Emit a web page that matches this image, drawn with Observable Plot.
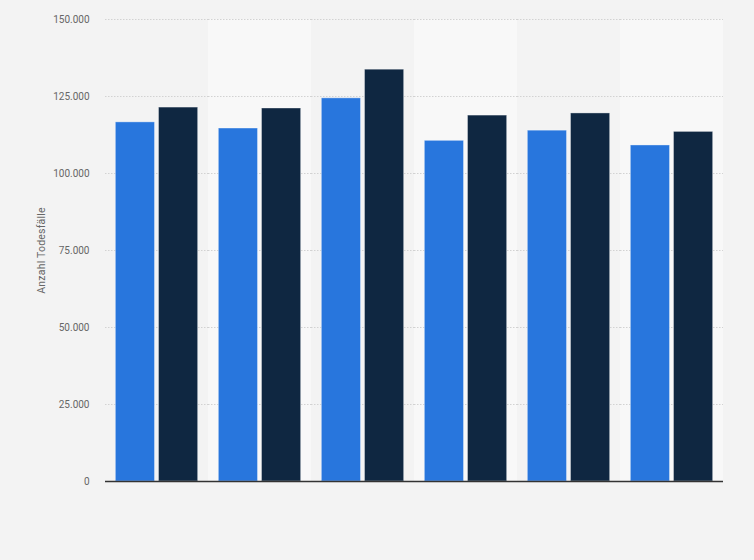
<!DOCTYPE html>
<html>
<head>
<meta charset="utf-8">
<script src="https://cdn.jsdelivr.net/npm/d3@7"></script>
<script src="https://cdn.jsdelivr.net/npm/@observablehq/plot@0.6"></script>
<style>
  html, body { margin: 0; padding: 0; background: #f3f3f3; }
  #chart g[aria-label="y-axis label"] text { font-size: 10.5px; letter-spacing: 0.2px; }
</style>
</head>
<body>
<div id="chart"></div>
<script>
const groups = ["1", "2", "3", "4", "5", "6"];
const series = ["Reihe 1", "Reihe 2"];
const seriesA = [116600, 114600, 124400, 110600, 113900, 109100];
const seriesB = [121400, 121100, 133700, 118800, 119500, 113500];
const yTicks = [0, 25000, 50000, 75000, 100000, 125000, 150000];
const shadedGroups = ["2", "4", "6"];

const data = groups.flatMap((g, i) => [
  {group: g, series: series[0], value: seriesA[i]},
  {group: g, series: series[1], value: seriesB[i]}
]);

const fmt = d3.formatLocale({decimal: ",", thousands: ".", grouping: [3], currency: ["", " €"]}).format(",d");

const chart = Plot.plot({
  width: 754,
  height: 560,
  marginLeft: 104,
  marginRight: 30,
  marginTop: 19,
  marginBottom: 79,
  style: {background: "#f3f3f3", fontFamily: "Roboto, sans-serif", fontSize: "10px", color: "#666"},
  fx: {domain: groups, padding: 0, axis: null},
  x: {domain: series, paddingInner: 0.093, paddingOuter: 0.24, round: false, axis: null},
  y: {
    domain: [0, 150000],
    ticks: yTicks,
    tickFormat: fmt,
    tickSize: 0,
    tickPadding: 16,
    label: "Anzahl Todesfälle",
    labelAnchor: "center",
    labelArrow: "none",
    labelOffset: 68
  },
  color: {domain: series, range: ["#2876dd", "#0f2741"]},
  marks: [
    Plot.barY(shadedGroups, {fx: d => d, y1: 0, y2: 150000, fill: "#f8f8f8"}),
    Plot.gridY(yTicks, {stroke: "#d2d2d2", strokeOpacity: 1, strokeDasharray: "1.5,1.5"}),
    Plot.barY(data, {fx: "group", x: "series", y: "value", fill: "series", stroke: "white", strokeOpacity: 0.35, strokeWidth: 1}),
    Plot.ruleY([0], {stroke: "#333", strokeWidth: 1.5})
  ]
});
document.getElementById("chart").appendChild(chart);
</script>
</body>
</html>
